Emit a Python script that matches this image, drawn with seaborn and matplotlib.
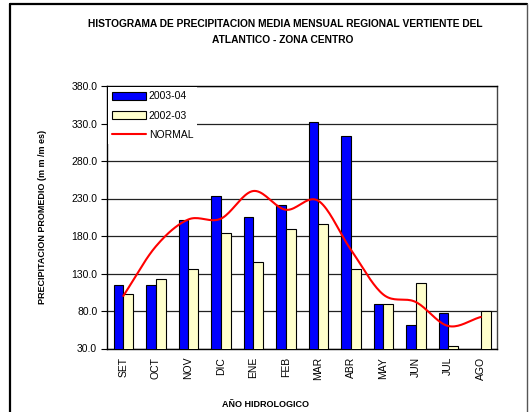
import numpy as np
import pandas as pd
import seaborn as sns
import matplotlib.pyplot as plt
from matplotlib.patches import Patch
from matplotlib.lines import Line2D

# Monthly values (mm/mes)
meses = ['SET', 'OCT', 'NOV', 'DIC', 'ENE', 'FEB', 'MAR', 'ABR', 'MAY', 'JUN', 'JUL', 'AGO']
p_2003_04 = [115, 115, 202, 234, 205, 222, 332, 314, 89, 62, 78, np.nan]
p_2002_03 = [103, 123, 136, 184, 145, 189, 196, 136, 89, 117, 34, 80]
normal = [100, 166, 202, 203, 240, 215, 227, 162, 102, 92, 60, 72]

series_names = ['2003-04', '2002-03']
colores = {'2003-04': '#0000FF', '2002-03': '#FFFFCC'}

df = pd.DataFrame({
    'mes': meses * 2,
    'serie': [series_names[0]] * 12 + [series_names[1]] * 12,
    'valor': p_2003_04 + p_2002_03,
})

sns.set_theme(style='white')
plt.rcParams['font.family'] = ['Liberation Sans', 'DejaVu Sans']
plt.rcParams['text.color'] = 'black'
plt.rcParams['axes.labelcolor'] = 'black'
plt.rcParams['xtick.color'] = 'black'
plt.rcParams['ytick.color'] = 'black'

fig = plt.figure(figsize=(5.29, 4.12), dpi=100)
ax = fig.add_axes([107 / 529, 1 - 348.5 / 412, 390 / 529, 262.5 / 412])

sns.barplot(data=df, x='mes', y='valor', hue='serie', order=meses,
            hue_order=series_names, palette=colores, width=0.6, saturation=1,
            edgecolor='black', linewidth=0.8, ax=ax, legend=False, zorder=3)


# smooth line like the spreadsheet "smoothed line" option (Catmull-Rom through the points)
def catmull_rom(xs, ys, n=20):
    xs = np.asarray(xs, float)
    ys = np.asarray(ys, float)
    px = np.concatenate([[2 * xs[0] - xs[1]], xs, [2 * xs[-1] - xs[-2]]])
    py = np.concatenate([[2 * ys[0] - ys[1]], ys, [2 * ys[-1] - ys[-2]]])
    outx, outy = [], []
    for i in range(1, len(px) - 2):
        t = np.linspace(0, 1, n, endpoint=False)
        for arr, out in ((px, outx), (py, outy)):
            p0, p1, p2, p3 = arr[i - 1], arr[i], arr[i + 1], arr[i + 2]
            out.extend(0.5 * ((2 * p1) + (-p0 + p2) * t
                              + (2 * p0 - 5 * p1 + 4 * p2 - p3) * t ** 2
                              + (-p0 + 3 * p1 - 3 * p2 + p3) * t ** 3))
    outx.append(xs[-1])
    outy.append(ys[-1])
    return outx, outy


sx, sy = catmull_rom(range(len(meses)), normal)
ax.plot(sx, sy, color='#FF0000', lw=1.5, zorder=4)

ax.set_ylim(30, 380)
ax.set_xlim(-0.5, 11.5)
ax.set_yticks(np.arange(30, 381, 50))
ax.set_yticklabels([f'{v:.1f}' for v in np.arange(30, 381, 50)], fontsize=7.5)
ax.yaxis.grid(True, color='#222222', lw=0.9, zorder=0)
ax.set_axisbelow(True)

ax.set_xticks(range(len(meses)))
ax.set_xticklabels(meses, rotation=90, fontsize=7.5)
ax.set_xticks(np.arange(-0.5, 12, 1), minor=True)
ax.tick_params(axis='x', which='major', length=0, pad=6)
ax.tick_params(axis='x', which='minor', length=4, width=0.8, color='black', direction='out')
ax.tick_params(axis='y', length=4, width=0.8, color='black', direction='out', left=True, pad=3)

for s in ['left', 'bottom', 'top']:
    ax.spines[s].set_color('black')
    ax.spines[s].set_linewidth(1.0)
ax.spines['right'].set_color('#444444')
ax.spines['right'].set_linewidth(1.0)

ax.set_xlabel('AÑO HIDROLOGICO', fontsize=6.5, fontweight='bold', labelpad=14)
ax.xaxis.set_label_coords((266 - 107) / 390, -(400 - 348.5) / 262.5)
ax.set_ylabel('PRECIPITACION PROMEDIO (m m /m es)', fontsize=6.5, fontweight='bold')
ax.yaxis.set_label_coords(-(107 - 47) / 390, 0.5)

handles = [Patch(facecolor=colores['2003-04'], edgecolor='black', lw=0.8, label='2003-04'),
           Patch(facecolor=colores['2002-03'], edgecolor='black', lw=0.8, label='2002-03'),
           Line2D([0], [0], color='#FF0000', lw=1.5, label='NORMAL')]
leg = ax.legend(handles=handles, loc='upper left', bbox_to_anchor=(0.003, 0.995),
                fontsize=7.5, frameon=True, fancybox=False, framealpha=1,
                edgecolor='none', facecolor='white', handlelength=3.2,
                handleheight=0.8, labelspacing=0.9, handletextpad=0.3,
                borderpad=0.4, borderaxespad=0)
leg.set_zorder(5)

fig.text(285 / 529, 1 - 24 / 412,
         'HISTOGRAMA DE PRECIPITACION MEDIA MENSUAL REGIONAL VERTIENTE DEL',
         ha='center', va='center', fontsize=7.4, fontweight='bold')
fig.text(283 / 529, 1 - 40 / 412, 'ATLANTICO - ZONA CENTRO',
         ha='center', va='center', fontsize=7.4, fontweight='bold')

# outer chart border
fig.add_artist(Line2D([9.5 / 529, 9.5 / 529], [0, 1 - 3.5 / 412], color='black', lw=1.6))
fig.add_artist(Line2D([9.5 / 529, 526.5 / 529], [1 - 3.5 / 412, 1 - 3.5 / 412], color='black', lw=1.6))
fig.add_artist(Line2D([526.5 / 529, 526.5 / 529], [0, 1 - 3.5 / 412], color='#555555', lw=1.0))

fig.savefig('out.png', dpi=100, facecolor='white')
